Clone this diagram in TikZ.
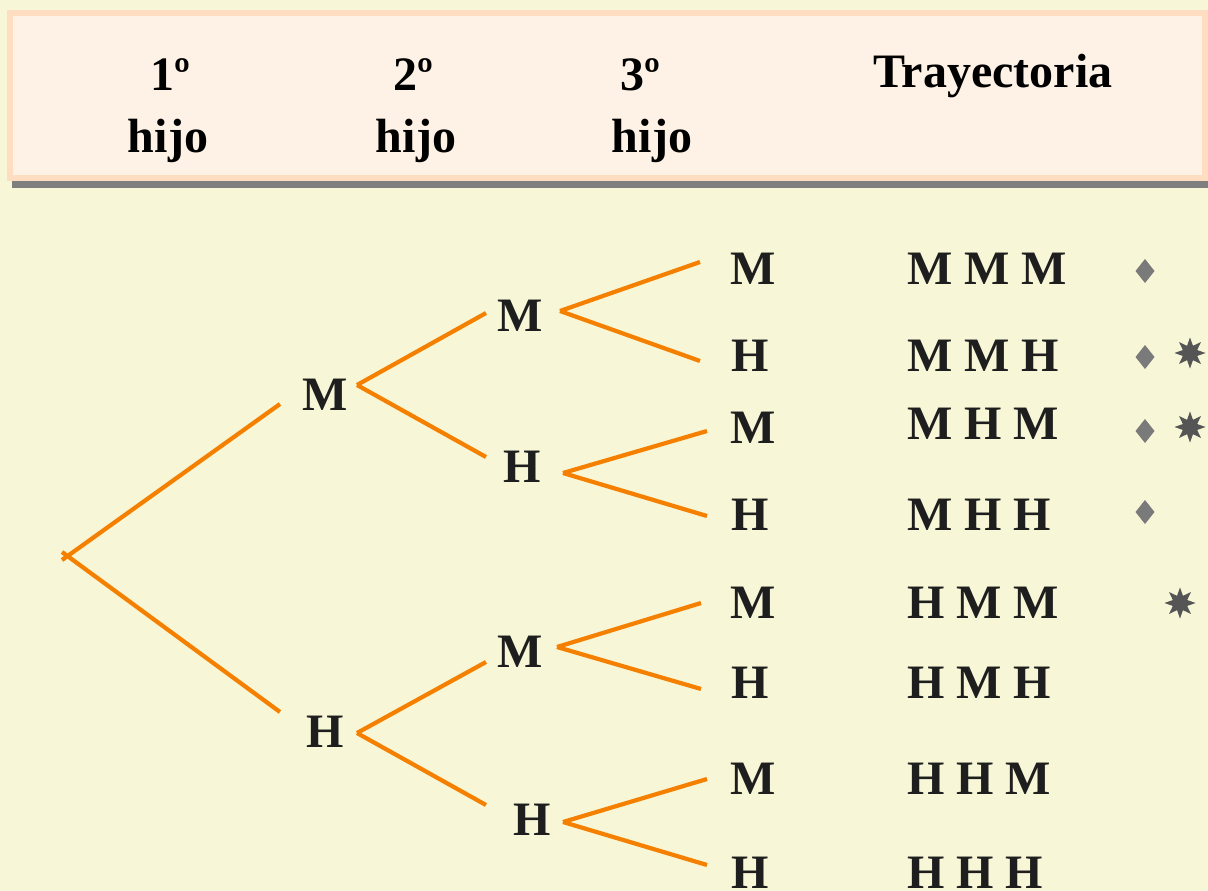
\documentclass[tikz,border=0pt]{standalone}
\usepackage{fontspec}
\setmainfont{Liberation Serif}
\usetikzlibrary{shapes.geometric}
\definecolor{bgc}{RGB}{247,246,215}
\definecolor{peach}{RGB}{254,221,192}
\definecolor{inner}{RGB}{254,242,230}
\definecolor{shadow}{RGB}{127,127,127}
\definecolor{orng}{RGB}{245,128,0}
\definecolor{txt}{RGB}{30,30,30}
\definecolor{dia}{RGB}{122,122,122}
\definecolor{stc}{RGB}{85,85,85}
\tikzset{
  lbl/.style={font=\fontsize{48}{54}\selectfont\bfseries, text=txt, inner sep=0pt, anchor=base},
  leaf/.style={lbl, anchor=base west},
  traj/.style={lbl, anchor=base west},
  hdr/.style={font=\fontsize{48}{54}\selectfont\bfseries, text=black, inner sep=0pt, anchor=base},
  br/.style={draw=orng, line width=4.2pt},
  dmark/.style={fill=dia},
  smark/.style={star, star points=8, star point ratio=2.0, fill=stc, draw=none, minimum size=31pt, inner sep=0pt},
}
\begin{document}
\begin{tikzpicture}[x=1pt,y=-1pt]
\fill[bgc] (0,0) rectangle (1208,891);
\useasboundingbox (0,0) rectangle (1208,891);
% header
\fill[shadow] (12,181) rectangle (1208,188);
\fill[peach] (7,10) rectangle (1208,181);
\fill[inner] (13,16) rectangle (1202,175);
\node[hdr] (h1a) at (170,90) {1º};
\node[hdr] (h1b) at (168,152) {hijo};
\node[hdr] (h2a) at (413,90) {2º};
\node[hdr] (h2b) at (416,152) {hijo};
\node[hdr] (h3a) at (640,90) {3º};
\node[hdr] (h3b) at (652,152) {hijo};
\node[hdr] (htr) at (993,88) {Trayectoria};
% tree nodes
\coordinate (root) at (62,556);
\node[lbl] (A) at (325,410) {M};
\node[lbl] (B) at (325,747) {H};
\node[lbl] (AA) at (520,331) {M};
\node[lbl] (AB) at (522,482) {H};
\node[lbl] (BA) at (520,667) {M};
\node[lbl] (BB) at (532,835) {H};
\node[leaf] (L1) at (730,284) {M};
\node[leaf] (L2) at (731,371) {H};
\node[leaf] (L3) at (730,443) {M};
\node[leaf] (L4) at (731,530) {H};
\node[leaf] (L5) at (730,618) {M};
\node[leaf] (L6) at (731,698) {H};
\node[leaf] (L7) at (730,794) {M};
\node[leaf] (L8) at (731,888) {H};
% connection points
\coordinate (Ain) at (280,404); \coordinate (Aout) at (357,385);
\coordinate (Bin) at (280,712); \coordinate (Bout) at (357,733);
\coordinate (AAin) at (486,313); \coordinate (AAout) at (560,311);
\coordinate (ABin) at (486,457); \coordinate (ABout) at (563,473);
\coordinate (BAin) at (486,662); \coordinate (BAout) at (557,647);
\coordinate (BBin) at (486,805); \coordinate (BBout) at (563,822);
\coordinate (L1in) at (700,262); \coordinate (L2in) at (700,361);
\coordinate (L3in) at (707,431); \coordinate (L4in) at (707,516);
\coordinate (L5in) at (701,603); \coordinate (L6in) at (701,689);
\coordinate (L7in) at (707,779); \coordinate (L8in) at (707,865);
\draw[br] ([yshift=-4pt]root) -- (Ain);
\draw[br] ([yshift=4pt]root) -- (Bin);
\draw[br] (Aout) -- (AAin);
\draw[br] (Aout) -- (ABin);
\draw[br] (Bout) -- (BAin);
\draw[br] (Bout) -- (BBin);
\draw[br] (AAout) -- (L1in);
\draw[br] (AAout) -- (L2in);
\draw[br] (ABout) -- (L3in);
\draw[br] (ABout) -- (L4in);
\draw[br] (BAout) -- (L5in);
\draw[br] (BAout) -- (L6in);
\draw[br] (BBout) -- (L7in);
\draw[br] (BBout) -- (L8in);
% trajectories
\node[traj] (T1) at (907,284) {M M M};
\node[traj] (T2) at (907,371) {M M H};
\node[traj] (T3) at (907,439) {M H M};
\node[traj] (T4) at (907,530) {M H H};
\node[traj] (T5) at (907,618) {H M M};
\node[traj] (T6) at (907,698) {H M H};
\node[traj] (T7) at (907,794) {H H M};
\node[traj] (T8) at (907,888) {H H H};
% marks
\foreach \n/\yy in {d1/271, d2/357, d3/431, d4/512}{
  \coordinate (\n) at (1145,\yy);
  \fill[dmark] (\n) +(0,-12) -- +(9.5,0) -- +(0,12) -- +(-9.5,0) -- cycle;
}
\node[smark] (s2) at (1190,353) {};
\node[smark] (s3) at (1190,427) {};
\node[smark] (s5) at (1180,603) {};
\end{tikzpicture}
\end{document}
